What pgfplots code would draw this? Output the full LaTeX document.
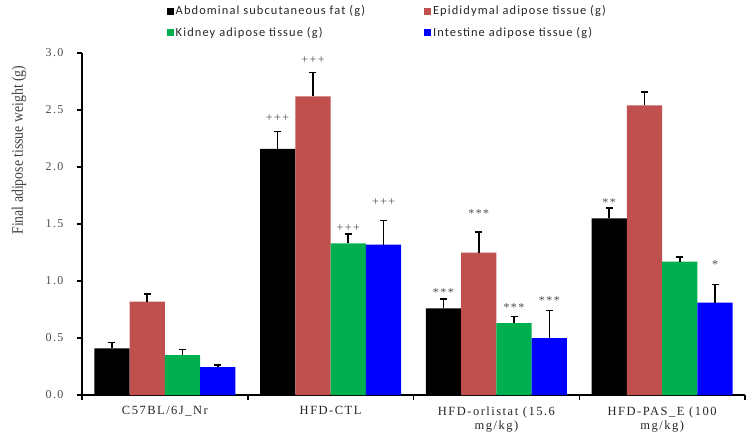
\documentclass[border=0pt]{standalone}
\usepackage{pgfplots}
\pgfplotsset{compat=1.18}
\usepackage{fontspec}
\setmainfont{Liberation Serif}[LetterSpace=12]
\newfontfamily\ylfont{Liberation Serif}
\newfontfamily\legfont{Carlito}[LetterSpace=9]
\definecolor{cred}{RGB}{192,80,77}
\definecolor{cgreen}{RGB}{0,176,80}
\definecolor{cblue}{RGB}{0,0,255}
\begin{document}
\begin{tikzpicture}
\begin{axis}[
  name=ax,
  scale only axis,
  width=663pt, height=342pt,
  ybar=0pt, bar width=0.213,
  xmin=-0.5, xmax=3.5, ymin=0, ymax=3,
  axis x line*=bottom, axis y line*=left,
  axis line style={line width=1.5pt},
  xtick={0,1,2,3},
  xticklabels={C57BL/6J\_Nr, HFD-CTL, {HFD-orlistat (15.6\\mg/kg)}, {HFD-PAS\_E (100\\mg/kg)}},
  xticklabel style={align=center, font=\fontsize{12.5}{14.5}\selectfont, text=black!85, yshift=-3pt},
  major x tick style={draw=none},
  minor xtick={-0.5,0.5,1.5,2.5,3.5},
  minor tick length=5pt,
  tick align=outside,
  ytick={0,0.5,...,3},
  major tick length=5pt,
  tick style={black, line width=1.5pt},
  yticklabel style={/pgf/number format/.cd, fixed, fixed zerofill, precision=1, /tikz/.cd, font=\fontsize{12}{13}\selectfont, text=black!70, xshift=-10pt},
  /pgf/number format/assume math mode=true,
  ylabel={\scalebox{0.86}[1]{Final adipose tissue weight (g)}},
  ylabel style={at={(axis description cs:-0.095,0.716)}, anchor=center, font=\ylfont\fontsize{16}{17}\selectfont, text=black!75},
  legend columns=2,
  legend style={at={(axis description cs:0.123,1.15)}, anchor=north west, draw=none, fill=none, font=\legfont\fontsize{12.4}{14}\selectfont, text=black!85, row sep=7pt, /tikz/every even column/.append style={column sep=57pt}},
  legend cell align=left,
  legend image code/.code={\fill[#1] (0pt,-3.5pt) rectangle (7pt,3.5pt);},
  error bars/y dir=plus, error bars/y explicit,
  error bars/error bar style={draw=black, line width=1.6pt},
  error bars/error mark options={draw=black, line width=1.6pt, mark size=3.5pt, rotate=90},
]
\addplot[fill=black, draw=none] coordinates {(0,0.41) +- (0,0.05) (1,2.16) +- (0,0.15) (2,0.76) +- (0,0.08) (3,1.55) +- (0,0.09)};
\addplot[fill=cred, draw=none] coordinates {(0,0.82) +- (0,0.065) (1,2.62) +- (0,0.21) (2,1.25) +- (0,0.18) (3,2.54) +- (0,0.12)};
\addplot[fill=cgreen, draw=none] coordinates {(0,0.35) +- (0,0.05) (1,1.33) +- (0,0.08) (2,0.63) +- (0,0.06) (3,1.17) +- (0,0.04)};
\addplot[fill=cblue, draw=none] coordinates {(0,0.245) +- (0,0.02) (1,1.32) +- (0,0.21) (2,0.50) +- (0,0.24) (3,0.81) +- (0,0.16)};
\legend{Abdominal subcutaneous fat (g), Epididymal adipose tissue (g), Kidney adipose tissue (g), Intestine adipose tissue (g)}
\begin{scope}[every node/.style={font=\fontsize{12}{13}\selectfont, text=black!70}]
\node at (axis cs:0.68,2.43) {+++};
\node at (axis cs:0.894,2.94) {+++};
\node at (axis cs:1.106,1.465) {+++};
\node at (axis cs:1.32,1.69) {+++};
\node at (axis cs:1.68,0.90) {***};
\node at (axis cs:1.894,1.59) {***};
\node at (axis cs:2.106,0.77) {***};
\node at (axis cs:2.32,0.83) {***};
\node at (axis cs:2.68,1.69) {**};
\node at (axis cs:3.32,1.14) {*};
\end{scope}
\end{axis}
\pgfresetboundingbox
\path[use as bounding box] ([xshift=-82pt,yshift=-37pt]ax.south west) rectangle ([xshift=3pt,yshift=53pt]ax.north east);
\end{tikzpicture}
\end{document}
